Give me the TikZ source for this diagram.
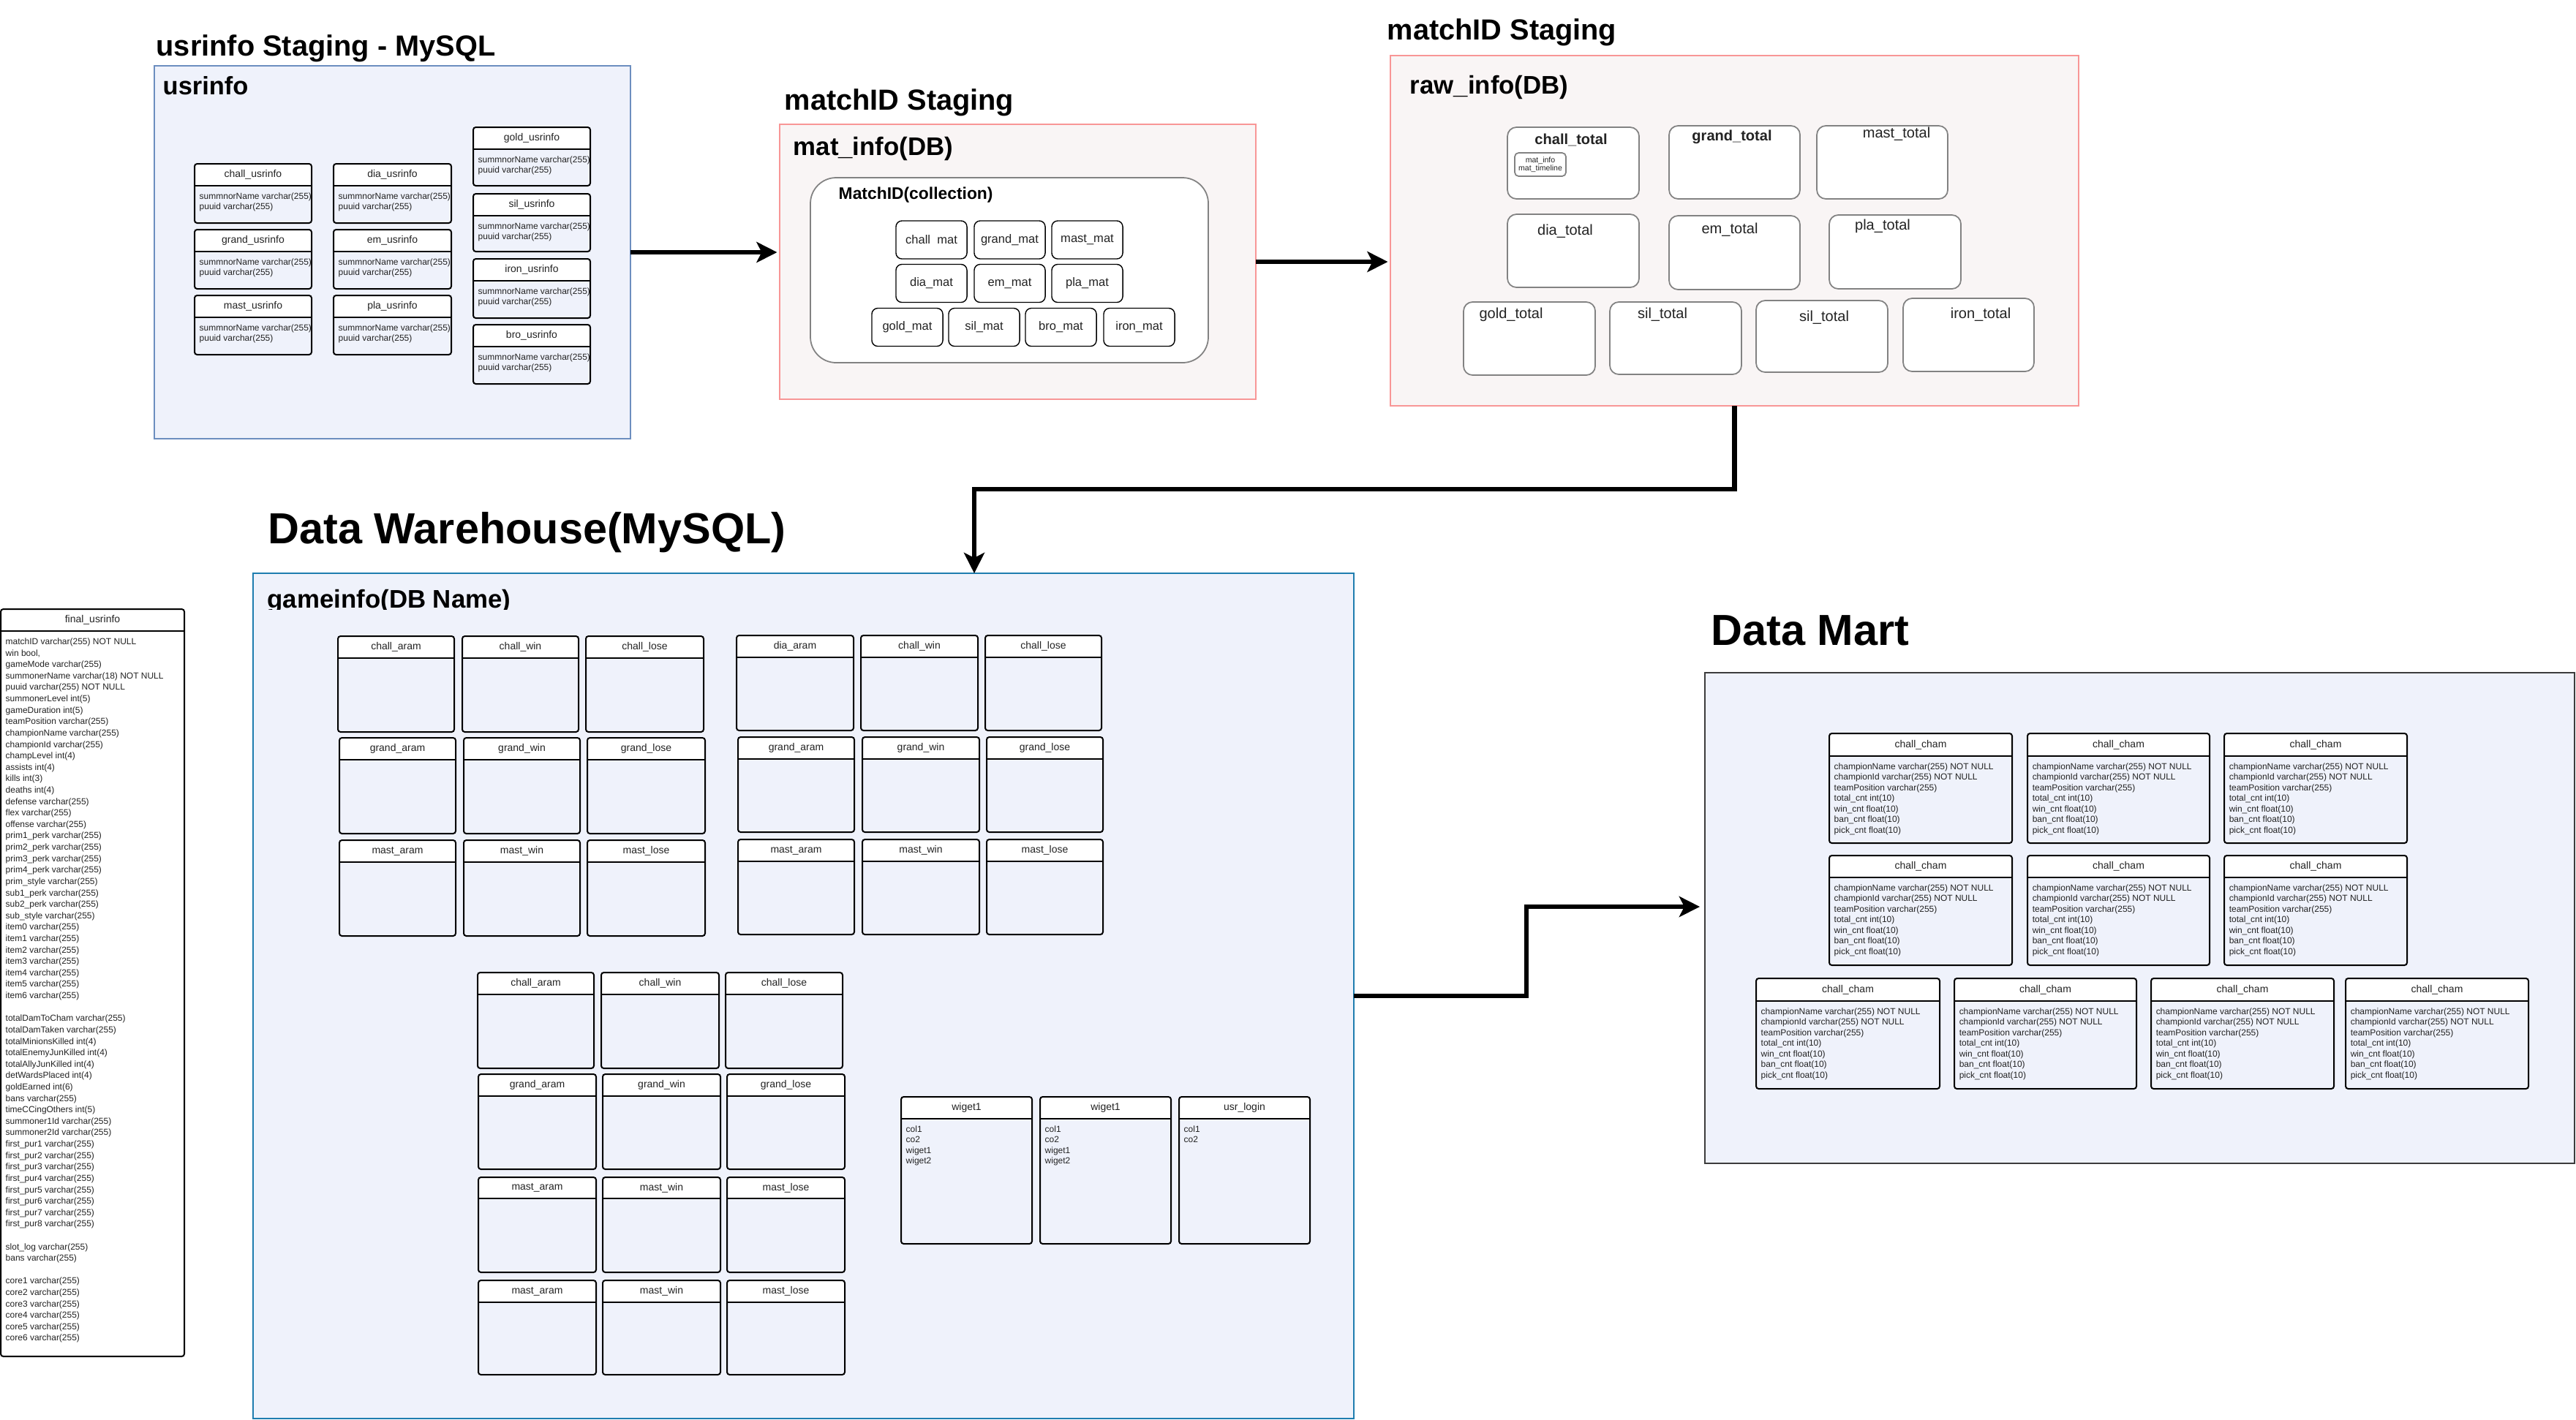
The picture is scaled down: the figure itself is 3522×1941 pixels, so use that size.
\documentclass[tikz,border=0pt]{standalone}
\usepackage{fontspec}
\setmainfont{Liberation Sans}
\usetikzlibrary{arrows.meta}
\definecolor{lblue}{RGB}{239,242,251}
\definecolor{ublue}{RGB}{108,142,191}
\definecolor{pinkline}{RGB}{248,150,150}
\definecolor{pinkfill}{RGB}{249,245,245}
\definecolor{gblue}{RGB}{30,125,175}
\definecolor{dmline}{RGB}{60,60,60}
\definecolor{grayline}{RGB}{130,130,130}
\definecolor{txt}{RGB}{35,35,35}
\tikzset{
  frame/.style={anchor=north west, inner sep=0pt, outer sep=0pt},
  usrbox/.style={draw=ublue, fill=lblue, line width=0.45pt},
  pinkbox/.style={draw=pinkline, fill=pinkfill, line width=0.6pt},
  gbox/.style={draw=gblue, fill=lblue, line width=0.5pt},
  dmbox/.style={draw=dmline, fill=lblue, line width=0.5pt},
  collbox/.style={draw=grayline, fill=white, line width=0.5pt, rounded corners=10pt},
  totbox/.style={draw=grayline, fill=white, line width=0.5pt, rounded corners=3.5pt},
  matbox/.style={draw=black, fill=white, line width=0.4pt, rounded corners=2.3pt,
    minimum width=0.97cm, minimum height=0.52cm, inner sep=0pt,
    font=\fontsize{4.7pt}{5.6pt}\selectfont, text=txt},
  tblline/.style={draw=black, line width=0.57pt, rounded corners=1pt},
  thead/.style={inner sep=0pt, font=\fontsize{3.98pt}{4.8pt}\selectfont, text=txt},
  tbody/.style={anchor=north west, align=left, inner sep=0pt,
    font=\fontsize{3.41pt}{4.1pt}\selectfont, text=txt},
  tbodyF/.style={tbody, font=\fontsize{3.41pt}{4.44pt}\selectfont},
  bigtitle/.style={anchor=base west, inner sep=0pt, font=\bfseries\fontsize{16.9pt}{20pt}\selectfont},
  sectitle/.style={anchor=base west, inner sep=0pt, font=\bfseries\fontsize{11.3pt}{13pt}\selectfont},
  dblabel/.style={anchor=base west, inner sep=0pt, font=\bfseries\fontsize{9.9pt}{12pt}\selectfont},
  totlabel/.style={inner sep=0pt, font=\fontsize{5.7pt}{6.8pt}\selectfont, text=txt},
  flow/.style={line width=1.85pt, -{Stealth[length=8pt,width=8pt,inset=2pt]}, shorten >=1pt}
}
\newcommand\boxat[6]{\node[frame,#1,minimum width={(#5-#3)*0.01cm},minimum height={(#6-#4)*0.01cm}] (#2) at (#3,#4) {};}
\newcommand\dbt[8]{%
  \fill[white,rounded corners=1pt] (#2,#3) rectangle (#4,#6);
  \draw[tblline] (#2,#3) rectangle (#4,#5);
  \draw[line width=0.57pt] (#2,#6) -- (#4,#6);
  \node[thead] (#1) at ({(#2+#4)/2},{(#3+#6)/2}) {#7};
  \node[tbody] (#1-b) at ({#2+6},{#6+7}) {\rule{0pt}{0.9em}#8};}
\newcommand\dbe[7]{%
  \fill[white,rounded corners=1pt] (#2,#3) rectangle (#4,#6);
  \draw[tblline] (#2,#3) rectangle (#4,#5);
  \draw[line width=0.57pt] (#2,#6) -- (#4,#6);
  \node[thead] (#1) at ({(#2+#4)/2},{(#3+#6)/2}) {#7};}
\newcommand\ub{summnorName varchar(255)\\puuid varchar(255)}
\newcommand\cb{championName varchar(255) NOT NULL\\championId varchar(255) NOT NULL\\teamPosition varchar(255)\\total\_cnt int(10)\\win\_cnt float(10)\\ban\_cnt float(10)\\pick\_cnt float(10)}
\begin{document}
\begin{tikzpicture}[x=0.01cm,y=-0.01cm]
\useasboundingbox[fill=white] (0,0) rectangle (3522,1941);

% ---------- usrinfo staging ----------
\node[sectitle] (t-usr) at (213,76) {usrinfo Staging - MySQL};
\boxat{usrbox}{usrinfo}{211}{90}{862}{600}
\node[dblabel, font=\bfseries\fontsize{9.8pt}{12pt}\selectfont] (l-usr) at (222,129) {usrinfo};
\dbt{chall-usr}{266}{224}{426}{305}{254}{chall\_usrinfo}{\ub}
\dbt{grand-usr}{266}{314}{426}{395}{344}{grand\_usrinfo}{\ub}
\dbt{mast-usr}{266}{404}{426}{485}{434}{mast\_usrinfo}{\ub}
\dbt{dia-usr}{456}{224}{617}{305}{254}{dia\_usrinfo}{\ub}
\dbt{em-usr}{456}{314}{617}{395}{344}{em\_usrinfo}{\ub}
\dbt{pla-usr}{456}{404}{617}{485}{434}{pla\_usrinfo}{\ub}
\dbt{gold-usr}{647}{174}{807}{254}{204}{gold\_usrinfo}{\ub}
\dbt{sil-usr}{647}{265}{807}{344}{295}{sil\_usrinfo}{\ub}
\dbt{iron-usr}{647}{354}{807}{435}{384}{iron\_usrinfo}{\ub}
\dbt{bro-usr}{647}{444}{807}{525}{474}{bro\_usrinfo}{\ub}

% ---------- matchID staging 1 ----------
\node[sectitle] (t-mat) at (1072,150) {matchID Staging};
\boxat{pinkbox}{matinfo}{1066}{170}{1717}{546}
\node[dblabel] (l-mat) at (1084,212) {mat\_info(DB)};
\boxat{collbox}{coll}{1108}{243}{1652}{496}
\node[anchor=base west, inner sep=0pt, font=\bfseries\fontsize{6.5pt}{8pt}\selectfont] (l-coll) at (1146,272) {MatchID(collection)};
\node[matbox] (m-chall) at (1273.5,328) {chall~ mat};
\node[matbox] (m-grand) at (1380.5,328) {grand\_mat};
\node[matbox] (m-mast) at (1486.5,328) {mast\_mat};
\node[matbox] (m-dia) at (1273.5,387.5) {dia\_mat};
\node[matbox] (m-em) at (1380.5,387.5) {em\_mat};
\node[matbox] (m-pla) at (1486.5,387.5) {pla\_mat};
\node[matbox] (m-gold) at (1240.5,447.5) {gold\_mat};
\node[matbox] (m-sil) at (1345.5,447.5) {sil\_mat};
\node[matbox] (m-bro) at (1450.5,447.5) {bro\_mat};
\node[matbox] (m-iron) at (1557.5,447.5) {iron\_mat};

% ---------- matchID staging 2 ----------
\node[sectitle] (t-raw) at (1896,54) {matchID Staging};
\boxat{pinkbox}{rawinfo}{1901}{76}{2842}{555}
\node[dblabel] (l-raw) at (1927,128) {raw\_info(DB)};
\boxat{totbox}{b-chall}{2061}{174}{2241}{272}
\boxat{totbox}{b-grand}{2282}{172}{2461}{272}
\boxat{totbox}{b-mast}{2484}{172}{2663}{272}
\boxat{totbox}{b-dia}{2061}{293}{2241}{393}
\boxat{totbox}{b-em}{2282}{295}{2461}{396}
\boxat{totbox}{b-pla}{2501}{294}{2681}{395}
\boxat{totbox}{b-gold}{2001}{413}{2181}{513}
\boxat{totbox}{b-sil}{2201}{413}{2381}{512}
\boxat{totbox}{b-sil2}{2401}{411}{2581}{509}
\boxat{totbox}{b-iron}{2602}{408}{2781}{508}
\node[totlabel, font=\bfseries\fontsize{5.7pt}{6.8pt}\selectfont] (lt-chall) at (2148,191) {chall\_total};
\node[totlabel, font=\bfseries\fontsize{5.7pt}{6.8pt}\selectfont] (lt-grand) at (2368,187) {grand\_total};
\node[totlabel] (lt-mast) at (2593,183) {mast\_total};
\node[totlabel] (lt-dia) at (2140,316) {dia\_total};
\node[totlabel] (lt-em) at (2365,314) {em\_total};
\node[totlabel] (lt-pla) at (2574,309) {pla\_total};
\node[totlabel] (lt-gold) at (2066,430) {gold\_total};
\node[totlabel] (lt-sil) at (2273,430) {sil\_total};
\node[totlabel] (lt-sil2) at (2494,434) {sil\_total};
\node[totlabel] (lt-iron) at (2708,430) {iron\_total};
\boxat{totbox, rounded corners=1.5pt}{b-inner}{2071}{209}{2141}{241}
\node[inner sep=0pt, align=center, font=\fontsize{3pt}{3.2pt}\selectfont, text=txt] (l-inner) at (2106,225) {mat\_info\\mat\_timeline};

% ---------- final_usrinfo ----------
\fill[white,rounded corners=1pt] (1,833) rectangle (252,1855);
\dbt{final}{1}{833}{252}{1855}{863}{final\_usrinfo}{}
\node[tbodyF] (final-body) at (7,870) {\rule{0pt}{0.9em}matchID varchar(255) NOT NULL\\win bool,\\gameMode varchar(255)\\summonerName varchar(18) NOT NULL\\puuid varchar(255) NOT NULL\\summonerLevel int(5)\\gameDuration int(5)\\teamPosition varchar(255)\\championName varchar(255)\\championId varchar(255)\\champLevel int(4)\\assists int(4)\\kills int(3)\\deaths int(4)\\defense varchar(255)\\flex varchar(255)\\offense varchar(255)\\prim1\_perk varchar(255)\\prim2\_perk varchar(255)\\prim3\_perk varchar(255)\\prim4\_perk varchar(255)\\prim\_style varchar(255)\\sub1\_perk varchar(255)\\sub2\_perk varchar(255)\\sub\_style varchar(255)\\item0 varchar(255)\\item1 varchar(255)\\item2 varchar(255)\\item3 varchar(255)\\item4 varchar(255)\\item5 varchar(255)\\item6 varchar(255)\\[4.44pt]totalDamToCham varchar(255)\\totalDamTaken varchar(255)\\totalMinionsKilled int(4)\\totalEnemyJunKilled int(4)\\totalAllyJunKilled int(4)\\detWardsPlaced int(4)\\goldEarned int(6)\\bans varchar(255)\\timeCCingOthers int(5)\\summoner1Id varchar(255)\\summoner2Id varchar(255)\\first\_pur1 varchar(255)\\first\_pur2 varchar(255)\\first\_pur3 varchar(255)\\first\_pur4 varchar(255)\\first\_pur5 varchar(255)\\first\_pur6 varchar(255)\\first\_pur7 varchar(255)\\first\_pur8 varchar(255)\\[4.44pt]slot\_log varchar(255)\\bans varchar(255)\\[4.44pt]core1 varchar(255)\\core2 varchar(255)\\core3 varchar(255)\\core4 varchar(255)\\core5 varchar(255)\\core6 varchar(255)};

% ---------- Data Warehouse ----------
\node[bigtitle] (t-dw) at (366,743) {Data Warehouse(MySQL)};
\boxat{gbox}{gameinfo}{346}{784}{1851}{1940}
\begin{scope}
\clip (346,784) rectangle (1851,833);
\node[dblabel] (l-game) at (365,831) {gameinfo(DB Name)};
\end{scope}
% top-left group
\dbe{a11}{462}{870}{621}{1001}{900}{chall\_aram}
\dbe{a12}{632}{870}{791}{1001}{900}{chall\_win}
\dbe{a13}{801}{870}{962}{1001}{900}{chall\_lose}
\dbe{a21}{464}{1009}{623}{1140}{1039}{grand\_aram}
\dbe{a22}{634}{1009}{793}{1140}{1039}{grand\_win}
\dbe{a23}{803}{1009}{964}{1140}{1039}{grand\_lose}
\dbe{a31}{464}{1149}{623}{1280}{1179}{mast\_aram}
\dbe{a32}{634}{1149}{793}{1280}{1179}{mast\_win}
\dbe{a33}{803}{1149}{964}{1280}{1179}{mast\_lose}
% top-right group
\dbe{b11}{1007}{869}{1167}{999}{899}{dia\_aram}
\dbe{b12}{1177}{869}{1337}{999}{899}{chall\_win}
\dbe{b13}{1347}{869}{1506}{999}{899}{chall\_lose}
\dbe{b21}{1009}{1008}{1168}{1138}{1038}{grand\_aram}
\dbe{b22}{1179}{1008}{1339}{1138}{1038}{grand\_win}
\dbe{b23}{1349}{1008}{1508}{1138}{1038}{grand\_lose}
\dbe{b31}{1009}{1148}{1168}{1278}{1178}{mast\_aram}
\dbe{b32}{1179}{1148}{1339}{1278}{1178}{mast\_win}
\dbe{b33}{1349}{1148}{1508}{1278}{1178}{mast\_lose}
% bottom group
\dbe{c11}{653}{1330}{812}{1461}{1360}{chall\_aram}
\dbe{c12}{822}{1330}{983}{1461}{1360}{chall\_win}
\dbe{c13}{992}{1330}{1152}{1461}{1360}{chall\_lose}
\dbe{c21}{654}{1469}{815}{1599}{1499}{grand\_aram}
\dbe{c22}{824}{1469}{985}{1599}{1499}{grand\_win}
\dbe{c23}{994}{1469}{1155}{1599}{1499}{grand\_lose}
\dbe{c31}{654}{1610}{815}{1740}{1639}{mast\_aram}
\dbe{c32}{824}{1610}{985}{1740}{1639}{mast\_win}
\dbe{c33}{994}{1610}{1155}{1740}{1639}{mast\_lose}
\dbe{c41}{654}{1751}{815}{1880}{1781}{mast\_aram}
\dbe{c42}{824}{1751}{985}{1880}{1781}{mast\_win}
\dbe{c43}{994}{1751}{1155}{1880}{1781}{mast\_lose}
% widgets
\dbt{w1}{1232}{1500}{1411}{1701}{1530}{wiget1}{col1\\co2\\wiget1\\wiget2}
\dbt{w2}{1422}{1500}{1601}{1701}{1530}{wiget1}{col1\\co2\\wiget1\\wiget2}
\dbt{w3}{1612}{1500}{1791}{1701}{1530}{usr\_login}{col1\\co2}

% ---------- Data Mart ----------
\node[bigtitle] (t-dm) at (2339,882) {Data Mart};
\boxat{dmbox}{datamart}{2331}{920}{3520}{1591}
\dbt{d11}{2501}{1003}{2751}{1153}{1034}{chall\_cham}{\cb}
\dbt{d12}{2772}{1003}{3021}{1153}{1034}{chall\_cham}{\cb}
\dbt{d13}{3041}{1003}{3291}{1153}{1034}{chall\_cham}{\cb}
\dbt{d21}{2501}{1170}{2751}{1320}{1200}{chall\_cham}{\cb}
\dbt{d22}{2772}{1170}{3021}{1320}{1200}{chall\_cham}{\cb}
\dbt{d23}{3041}{1170}{3291}{1320}{1200}{chall\_cham}{\cb}
\dbt{d31}{2401}{1338}{2652}{1489}{1369}{chall\_cham}{\cb}
\dbt{d32}{2672}{1338}{2921}{1489}{1369}{chall\_cham}{\cb}
\dbt{d33}{2941}{1338}{3191}{1489}{1369}{chall\_cham}{\cb}
\dbt{d34}{3207}{1338}{3457}{1489}{1369}{chall\_cham}{\cb}

% ---------- connectors ----------
\coordinate (gin) at (1332,784);
\coordinate (dmin) at (2331,1240);
\draw[flow] (usrinfo.east) -- (usrinfo.east -| matinfo.west);
\draw[flow] (matinfo.east) -- (matinfo.east -| rawinfo.west);
\draw[flow, shorten >=0pt] (rawinfo.south) -- ++(0,114) -| (gin);
\draw[flow, shorten >=2pt] (gameinfo.east) -- ++(236,0) |- (dmin);
\end{tikzpicture}
\end{document}
